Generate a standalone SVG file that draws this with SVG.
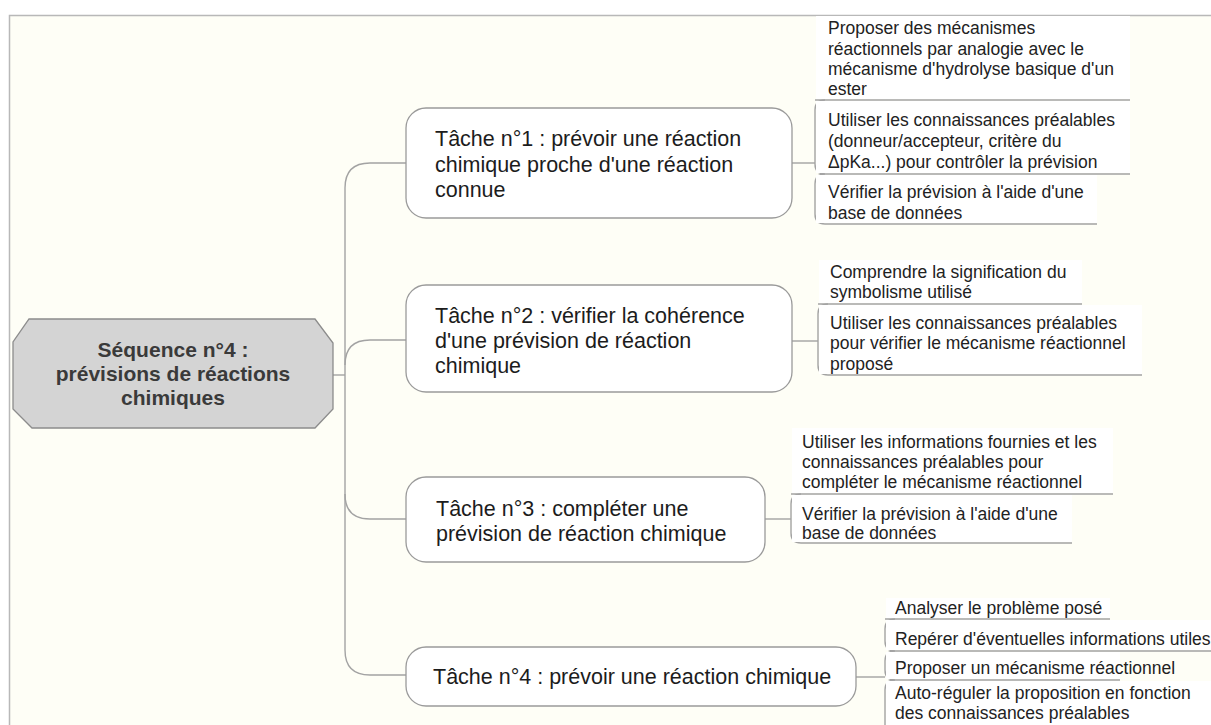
<svg xmlns="http://www.w3.org/2000/svg" width="1211" height="725" viewBox="0 0 1211 725">
<style>
.bg{fill:#fefef6}
.frame{fill:none;stroke:#b8b8b8;stroke-width:1.5}
.con{fill:none;stroke:#a3a3a3;stroke-width:1.4}
.task{fill:#ffffff;stroke:#9a9a9a;stroke-width:1.3}
.tt{font-family:"Liberation Sans",Arial,sans-serif;font-size:21.5px;fill:#1c1c1c}
.lt{font-family:"Liberation Sans",Arial,sans-serif;font-size:17.5px;fill:#222}
.leafbg{fill:#ffffff}
.ct{font-family:"Liberation Sans",Arial,sans-serif;font-size:21px;font-weight:bold;fill:#3a3a3a}
</style>
<rect x="0" y="0" width="1211" height="725" fill="#ffffff"/>
<rect class="bg" x="9.5" y="15.5" width="1202" height="710"/>
<path class="frame" d="M9.5,725 V15.5 H1211"/>

<g id="connectors">
  <path class="con" d="M333,375 H345"/>
  <path class="con" d="M406,163 H370 Q345,163 345,188 V650 Q345,675 370,675 H406"/>
  <path class="con" d="M406,340 H370 Q345,340 345,365"/>
  <path class="con" d="M345,494 Q345,519 370,519 H406"/>
  <!-- T1 -->
  <path class="con" d="M792,163 H815"/>
  <path class="con" d="M815,100 H1130"/>
  <path class="con" d="M825,100 Q815,100 815,110 V164 Q815,174 825,174 H1130"/>
  <path class="con" d="M825,174 Q815,174 815,184 V214 Q815,224 825,224 H1097"/>
  <!-- T2 -->
  <path class="con" d="M792,341 H818"/>
  <path class="con" d="M818,304 H1082"/>
  <path class="con" d="M828,304 Q818,304 818,314 V365 Q818,375 828,375 H1142"/>
  <!-- T3 -->
  <path class="con" d="M765,519 H791"/>
  <path class="con" d="M791,494 H1113"/>
  <path class="con" d="M801,494 Q791,494 791,504 V533 Q791,543 801,543 H1072"/>
  <!-- T4 -->
  <path class="con" d="M856,677 H885"/>
  <path class="con" d="M885,619 H1110"/>
  <path class="con" d="M895,619 Q885,619 885,629 V641 Q885,651 895,651 H1211"/>
  <path class="con" d="M895,651 Q885,651 885,661 V670 Q885,680 895,680 H1120"/>
  <path class="con" d="M895,680 Q885,680 885,690 V725"/>
</g>

<g id="central">
  <polygon points="29,319 315,319 333,343 333,409 315,428 32,428 13,409 13,342" fill="#d4d4d4" stroke="#8c8c8c" stroke-width="1.3"/>
  <text class="ct" text-anchor="middle" x="173" y="357">Séquence n°4 :</text>
  <text class="ct" text-anchor="middle" x="173" y="381">prévisions de réactions</text>
  <text class="ct" text-anchor="middle" x="173" y="405">chimiques</text>
</g>

<g id="task1">
  <rect class="task" x="406" y="108" width="386" height="110" rx="20"/>
  <text class="tt" x="435" y="146">Tâche n°1 : prévoir une réaction</text>
  <text class="tt" x="435" y="171.5">chimique proche d'une réaction</text>
  <text class="tt" x="435" y="196.5">connue</text>
</g>
<g id="task1-leaf1">
  <rect class="leafbg" x="816" y="16" width="314" height="83"/>
  <text class="lt" x="828" y="34">Proposer des mécanismes</text>
  <text class="lt" x="828" y="54.5">réactionnels par analogie avec le</text>
  <text class="lt" x="828" y="75">mécanisme d'hydrolyse basique d'un</text>
  <text class="lt" x="828" y="95">ester</text>
</g>
<g id="task1-leaf2">
  <rect class="leafbg" x="816" y="101" width="314" height="72"/>
  <text class="lt" x="828" y="126">Utiliser les connaissances préalables</text>
  <text class="lt" x="828" y="147">(donneur/accepteur, critère du</text>
  <text class="lt" x="828" y="168">ΔpKa...) pour contrôler la prévision</text>
</g>
<g id="task1-leaf3">
  <rect class="leafbg" x="816" y="175" width="281" height="48"/>
  <text class="lt" x="828" y="198">Vérifier la prévision à l'aide d'une</text>
  <text class="lt" x="828" y="218.5">base de données</text>
</g>

<g id="task2">
  <rect class="task" x="406" y="285" width="386" height="107" rx="20"/>
  <text class="tt" x="435" y="323">Tâche n°2 : vérifier la cohérence</text>
  <text class="tt" x="435" y="348">d'une prévision de réaction</text>
  <text class="tt" x="435" y="372.5">chimique</text>
</g>
<g id="task2-leaf1">
  <rect class="leafbg" x="819" y="260" width="263" height="43"/>
  <text class="lt" x="830" y="277.5">Comprendre la signification du</text>
  <text class="lt" x="830" y="298">symbolisme utilisé</text>
</g>
<g id="task2-leaf2">
  <rect class="leafbg" x="819" y="305" width="323" height="69"/>
  <text class="lt" x="830" y="328.5">Utiliser les connaissances préalables</text>
  <text class="lt" x="830" y="349">pour vérifier le mécanisme réactionnel</text>
  <text class="lt" x="830" y="369.5">proposé</text>
</g>

<g id="task3">
  <rect class="task" x="406" y="477" width="359" height="85" rx="20"/>
  <text class="tt" x="436" y="516">Tâche n°3 : compléter une</text>
  <text class="tt" x="436" y="541">prévision de réaction chimique</text>
</g>
<g id="task3-leaf1">
  <rect class="leafbg" x="792" y="428" width="321" height="65"/>
  <text class="lt" x="802" y="448">Utiliser les informations fournies et les</text>
  <text class="lt" x="802" y="468">connaissances préalables pour</text>
  <text class="lt" x="802" y="488">compléter le mécanisme réactionnel</text>
</g>
<g id="task3-leaf2">
  <rect class="leafbg" x="792" y="495" width="280" height="47"/>
  <text class="lt" x="802" y="520">Vérifier la prévision à l'aide d'une</text>
  <text class="lt" x="802" y="539">base de données</text>
</g>

<g id="task4">
  <rect class="task" x="406" y="647" width="450" height="59" rx="20"/>
  <text class="tt" x="433" y="684">Tâche n°4 : prévoir une réaction chimique</text>
</g>
<g id="task4-leaf1">
  <rect class="leafbg" x="886" y="598" width="224" height="20"/>
  <text class="lt" x="895" y="614">Analyser le problème posé</text>
</g>
<g id="task4-leaf2">
  <rect class="leafbg" x="886" y="620" width="325" height="30"/>
  <text class="lt" x="895" y="644.5">Repérer d'éventuelles informations utiles</text>
</g>
<g id="task4-leaf3">
  <rect class="leafbg" x="886" y="652" width="234" height="27"/>
  <text class="lt" x="895" y="673.5">Proposer un mécanisme réactionnel</text>
</g>
<g id="task4-leaf4">
  <rect class="leafbg" x="886" y="681" width="325" height="44"/>
  <text class="lt" x="895" y="699">Auto-réguler la proposition en fonction</text>
  <text class="lt" x="895" y="719">des connaissances préalables</text>
</g>
</svg>
